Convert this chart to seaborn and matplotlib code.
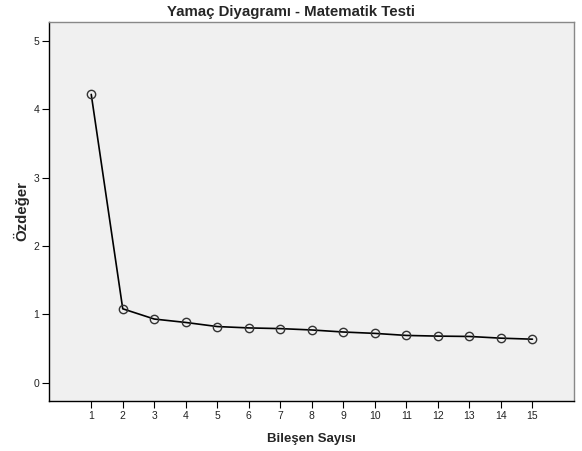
import matplotlib
matplotlib.use("Agg")
import matplotlib.pyplot as plt
import seaborn as sns
import pandas as pd

# scree plot values
components = [1, 2, 3, 4, 5, 6, 7, 8, 9, 10, 11, 12, 13, 14, 15]
eigenvalues = [4.22, 1.08, 0.93, 0.88, 0.82, 0.80, 0.79, 0.77, 0.74,
               0.72, 0.69, 0.68, 0.675, 0.65, 0.635]
y_ticks = [0, 1, 2, 3, 4, 5]

df = pd.DataFrame({"Bileşen Sayısı": components, "Özdeğer": eigenvalues})

sns.set_style("white")
plt.rcParams['font.family'] = ['Liberation Sans', 'DejaVu Sans']

fig = plt.figure(figsize=(5.82, 4.51), dpi=100)
ax = fig.add_axes([0.0842, 0.1109, 0.9021, 0.8403])
ax.set_facecolor("#f0f0f0")

sns.lineplot(data=df, x="Bileşen Sayısı", y="Özdeğer", ax=ax,
             color="black", linewidth=1.2, marker="o", markersize=6,
             markerfacecolor="none", markeredgecolor="#333333",
             markeredgewidth=1.0)

ax.set_xlim(-0.34, 16.32)
ax.set_ylim(-0.27, 5.28)
ax.set_xticks(components)
ax.set_yticks(y_ticks)
ax.tick_params(axis="both", direction="out", length=5, width=0.8,
               labelsize=7.5, colors="black", labelcolor="#222222",
               left=True, bottom=True, pad=2)

for side in ["left", "bottom"]:
    ax.spines[side].set_color("black")
    ax.spines[side].set_linewidth(1.0)
for side in ["top", "right"]:
    ax.spines[side].set_color("#888888")
    ax.spines[side].set_linewidth(1.0)

# title is centred on the whole figure in the reference
fig.suptitle("Yamaç Diyagramı - Matematik Testi", x=0.5, y=0.988,
             va="top", fontsize=10.8, fontweight="bold")
ax.set_xlabel("Bileşen Sayısı", fontsize=9.5, fontweight="bold", labelpad=9)
ax.set_ylabel("Özdeğer", fontsize=10.8, fontweight="bold", labelpad=3)

fig.savefig("out.png", dpi=100)
